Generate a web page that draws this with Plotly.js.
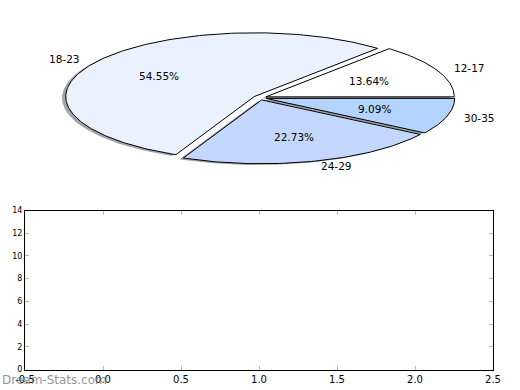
<!DOCTYPE html>
<html>
<head>
<meta charset="utf-8">
<script src="https://cdn.plot.ly/plotly-3.0.1.min.js"></script>
<style>html,body{margin:0;padding:0;background:#fff;}#chart{width:520px;height:390px;}</style>
</head>
<body>
<div id="chart"></div>
<script>
// ---- data ----
const ageGroups = ['12-17', '18-23', '24-29', '30-35'];
const counts = [3, 12, 5, 2];
const sliceColors = ['#FFFFFF', '#EBF2FF', '#C4D8FF', '#B3D4FF'];
const xTickVals = [-0.5, 0, 0.5, 1, 1.5, 2, 2.5];
const yTickVals = [0, 2, 4, 6, 8, 10, 12, 14];

// ---- styles / geometry ----
const W = 520, H = 390;
const EXPLODE = 0.035;
const SHADOW = -0.02;
const LABEL_DIST = 1.085;
const PCT_DIST = 0.6;
const cx = 259.8, cy = 97.8, rx = 188.5, ry = 63.8; // pixel placement of the pie
const FONT = 'DejaVu Sans, Arial, sans-serif';

const total = counts.reduce((a, b) => a + b, 0);
const traces = [];
const wedges = [];
let start = 0;
counts.forEach((c, i) => {
  const sweep = 360 * c / total;
  const t1 = start, t2 = start + sweep;
  const mid = (t1 + t2) / 2 * Math.PI / 180;
  const ox = EXPLODE * Math.cos(mid), oy = EXPLODE * Math.sin(mid);
  const xs = [ox], ys = [oy];
  const n = Math.max(2, Math.ceil(sweep));
  for (let k = 0; k <= n; k++) {
    const t = (t1 + sweep * k / n) * Math.PI / 180;
    xs.push(ox + Math.cos(t)); ys.push(oy + Math.sin(t));
  }
  xs.push(ox); ys.push(oy);
  wedges.push({xs, ys, mid, ox, oy, i});
  start = t2;
});

function shadowColor(hex) {
  const r = parseInt(hex.slice(1, 3), 16), g = parseInt(hex.slice(3, 5), 16), b = parseInt(hex.slice(5, 7), 16);
  return 'rgba(' + Math.round(r * 0.3) + ',' + Math.round(g * 0.3) + ',' + Math.round(b * 0.3) + ',0.5)';
}

// empty bottom axes
traces.push({type: 'scatter', x: [], y: [], xaxis: 'x', yaxis: 'y', showlegend: false});

wedges.forEach(w => {
  traces.push({
    type: 'scatter', mode: 'lines', xaxis: 'x2', yaxis: 'y2',
    x: w.xs.map(v => v + SHADOW), y: w.ys.map(v => v + SHADOW),
    fill: 'toself', fillcolor: shadowColor(sliceColors[w.i]),
    line: {width: 0, color: 'rgba(0,0,0,0)'}, showlegend: false, hoverinfo: 'skip'
  });
});
wedges.forEach(w => {
  traces.push({
    type: 'scatter', mode: 'lines', xaxis: 'x2', yaxis: 'y2',
    x: w.xs, y: w.ys, fill: 'toself', fillcolor: sliceColors[w.i],
    line: {width: 1, color: '#000'}, showlegend: false, hoverinfo: 'skip'
  });
});

const annotations = [];
wedges.forEach(w => {
  const lx = LABEL_DIST * Math.cos(w.mid) + w.ox, ly = LABEL_DIST * Math.sin(w.mid) + w.oy;
  annotations.push({
    xref: 'x2', yref: 'y2', x: lx, y: ly, text: ageGroups[w.i], showarrow: false,
    xanchor: lx > 0 ? 'left' : 'right', yanchor: 'middle',
    font: {family: FONT, size: 10.5, color: '#000'}
  });
  const px = PCT_DIST * Math.cos(w.mid) + w.ox, py = PCT_DIST * Math.sin(w.mid) + w.oy;
  annotations.push({
    xref: 'x2', yref: 'y2', x: px, y: py,
    text: (counts[w.i] / total * 100).toFixed(2) + '%', showarrow: false,
    xanchor: 'center', yanchor: 'middle',
    font: {family: FONT, size: 10.5, color: '#000'}
  });
});
annotations.push({
  xref: 'paper', yref: 'paper', x: 0, y: 1 - 380 / H, xanchor: 'left', yanchor: 'middle',
  text: 'Dream-Stats.com', showarrow: false,
  font: {family: FONT, size: 12, color: 'rgba(110,110,110,0.75)'}
});

// pie axes: pixel mapping -> data ranges
const pieTop = 0, pieBottom = 195;
const layout = {
  width: W, height: H,
  margin: {l: 0, r: 0, t: 0, b: 0},
  paper_bgcolor: '#fff', plot_bgcolor: 'rgba(0,0,0,0)',
  showlegend: false,
  xaxis: {
    domain: [25 / W, 493 / W], range: [-0.5, 2.5], anchor: 'y',
    tickvals: xTickVals, ticktext: xTickVals.map(v => v.toFixed(1)),
    ticks: 'inside', ticklen: 4, tickcolor: '#b8b8b8', tickwidth: 1,
    showline: true, linecolor: '#000', linewidth: 1, mirror: 'allticks',
    showgrid: false, zeroline: false,
    tickfont: {family: FONT, size: 10, color: '#000'}
  },
  yaxis: {
    domain: [1 - 369.5 / H, 1 - 210.5 / H], range: [0, 14], anchor: 'x',
    tickvals: yTickVals, ticktext: yTickVals.map(String),
    ticks: 'inside', ticklen: 4, tickcolor: '#b8b8b8', tickwidth: 1,
    showline: true, linecolor: '#000', linewidth: 1, mirror: 'allticks',
    showgrid: false, zeroline: false,
    tickfont: {family: FONT, size: 8, color: '#000'}
  },
  xaxis2: {
    domain: [0, 1], range: [(0 - cx) / rx, (W - cx) / rx], anchor: 'y2',
    visible: false, fixedrange: true
  },
  yaxis2: {
    domain: [1 - pieBottom / H, 1 - pieTop / H],
    range: [(cy - pieBottom) / ry, (cy - pieTop) / ry], anchor: 'x2',
    visible: false, fixedrange: true
  },
  annotations: annotations
};

Plotly.newPlot('chart', traces, layout, {staticPlot: true, displayModeBar: false});
</script>
</body>
</html>
